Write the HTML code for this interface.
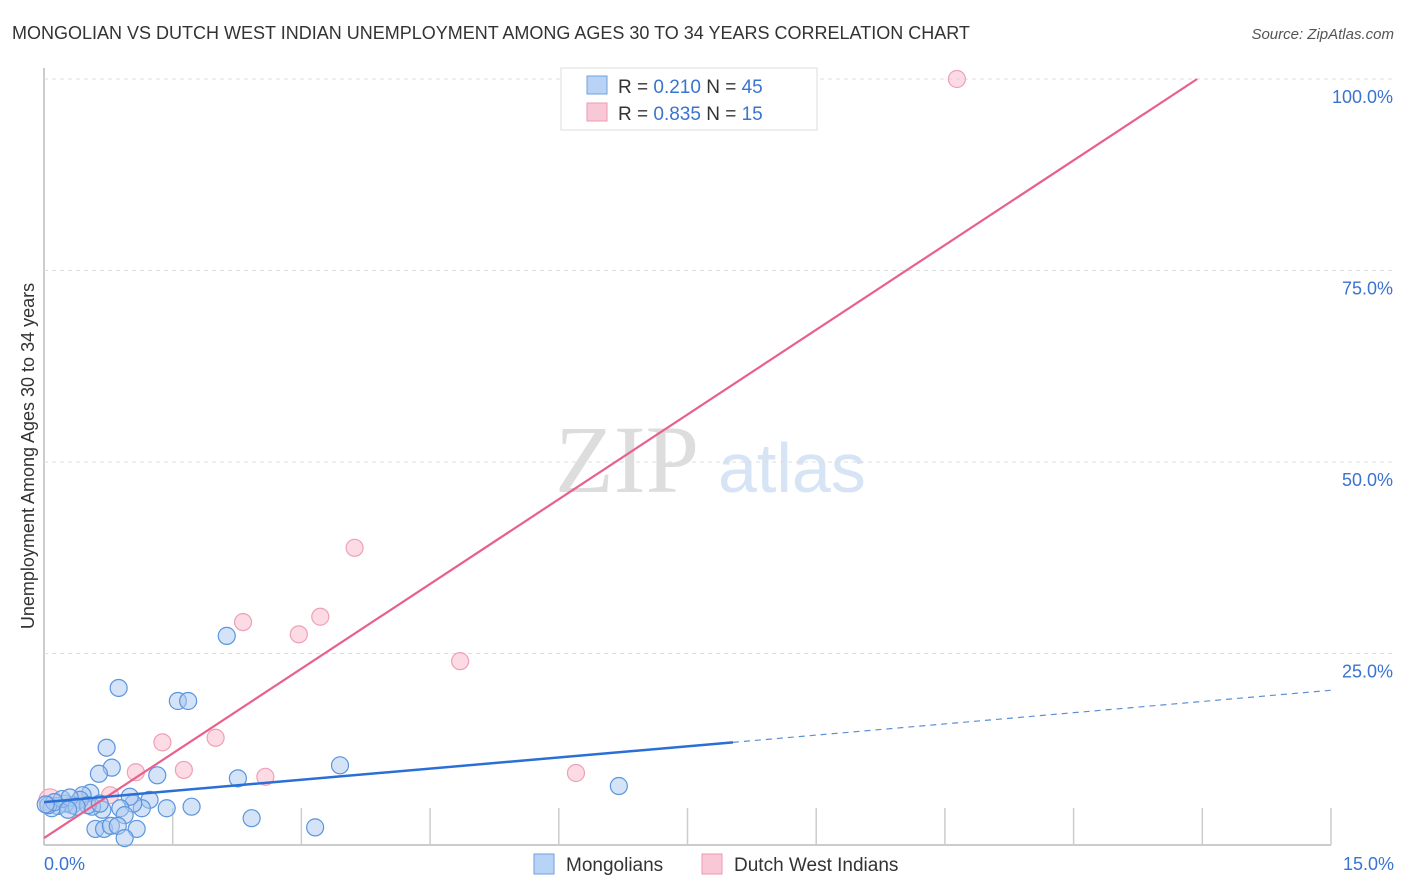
<!DOCTYPE html>
<html><head><meta charset="utf-8">
<style>
body{margin:0;background:#fff;font-family:"Liberation Sans",sans-serif;}
svg{display:block}
</style></head>
<body>
<svg id="chart" width="1406" height="892" xmlns="http://www.w3.org/2000/svg">
<text x="12" y="39" font-size="18" fill="#333">MONGOLIAN VS DUTCH WEST INDIAN UNEMPLOYMENT AMONG AGES 30 TO 34 YEARS CORRELATION CHART</text>
<text x="1394" y="39" font-size="15" fill="#555" font-style="italic" text-anchor="end">Source: ZipAtlas.com</text>
<text x="555" y="492" font-size="96" fill="#ddd" font-family="Liberation Serif,serif">ZIP</text>
<text x="718" y="492" font-size="70" fill="#d6e4f5">atlas</text>
<g id="grid"></g>
<g id="marks"></g>
<text transform="translate(34,456) rotate(-90)" font-size="18" fill="#333" text-anchor="middle">Unemployment Among Ages 30 to 34 years</text>
<g>
<rect x="561" y="68" width="256" height="62" fill="#fff" stroke="#ddd"/>
<rect x="587" y="76" width="20" height="18" fill="#b8d3f5" stroke="#6fa0e0"/>
<text x="618" y="93" font-size="19" fill="#333">R = <tspan fill="#3a73d0">0.210</tspan>   N = <tspan fill="#3a73d0">45</tspan></text>
<rect x="587" y="103" width="20" height="18" fill="#f9c8d6" stroke="#ec9ab2"/>
<text x="618" y="120" font-size="19" fill="#333">R = <tspan fill="#3a73d0">0.835</tspan>   N = <tspan fill="#3a73d0">15</tspan></text>
</g>
<g>
<rect x="534" y="854" width="20" height="20" fill="#b8d3f5" stroke="#6fa0e0"/>
<text x="566" y="871" font-size="19" fill="#333">Mongolians</text>
<rect x="702" y="854" width="20" height="20" fill="#f9c8d6" stroke="#ec9ab2"/>
<text x="734" y="871" font-size="19" fill="#333">Dutch West Indians</text>
</g>
</svg>
<script>
const xTicks=[0,1.5,3,4.5,6,7.5,9,10.5,12,13.5,15];
const yTicks=[25,50,75,100];
const yTickLabels=["25.0%","50.0%","75.0%","100.0%"];
const blueX=[0.87,1.56,1.68,2.13,0.73,0.79,0.64,1.32,2.26,3.45,6.70,2.42,3.16,1.72,1.43,1.23,1.14,1.04,1.0,0.89,0.94,0.6,0.7,0.78,0.86,1.08,0.94,0.68,0.56,0.54,0.45,0.42,0.33,0.25,0.16,0.09,0.05,0.21,0.30,0.51,0.65,0.12,0.38,0.02,0.28];
const blueY=[20.5,18.8,18.8,27.3,12.7,10.1,9.3,9.1,8.7,10.4,7.7,3.5,2.3,5.0,4.8,5.9,4.8,5.4,6.3,4.8,3.9,2.1,2.1,2.5,2.5,2.1,0.9,4.6,5.0,6.8,6.5,5.9,5.2,5.4,5.1,4.8,5.2,6.0,6.2,5.2,5.4,5.6,5.0,5.3,4.6];
const pinkX=[10.64,3.62,2.32,3.22,2.97,4.85,1.38,2.0,1.63,2.58,6.2,1.07,0.77,0.07,0.42];
const pinkY=[100,38.8,29.1,29.8,27.5,24.0,13.4,14.0,9.8,8.9,9.4,9.5,6.5,5.9,5.9];
const pinkLine=[[0,0.9],[13.44,100]];
const blueSolid=[[0,5.6],[8.03,13.4]];
const blueDash=[[8.03,13.4],[15,20.2]];
const NS="http://www.w3.org/2000/svg";
const sx=v=>44+v*(1331-44)/15;
const sy=v=>845-v*(845-79)/100;
function mk(t,a,p){const e=document.createElementNS(NS,t);for(const k in a)e.setAttribute(k,a[k]);p.appendChild(e);return e;}
const g=document.getElementById('grid'),m=document.getElementById('marks');
let ax=mk('line',{x1:44,y1:68,x2:44,y2:845,stroke:'#bbb','stroke-width':1.5},g);

let bx=mk('line',{x1:44,y1:845,x2:1331,y2:845,stroke:'#bbb','stroke-width':1.5},g);

yTicks.forEach((v,i)=>{
 let l=mk('line',{x1:44,y1:sy(v),x2:1395,y2:sy(v),stroke:'#ddd','stroke-dasharray':'4,4'},g);
 
 let t=mk('text',{x:1393,y:sy(v)+24,'font-size':18,fill:'#3a73d0','text-anchor':'end'},g);
 t.textContent=yTickLabels[i];
 
});
xTicks.forEach(v=>{if(v===0)return;
 let l=mk('line',{x1:sx(v),y1:808,x2:sx(v),y2:845,stroke:'#ccc','stroke-width':1.5},g);
 
});
let t0=mk('text',{x:44,y:870,'font-size':18,fill:'#3a73d0'},g);t0.textContent='0.0%';

let t1=mk('text',{x:1394,y:870,'font-size':18,fill:'#3a73d0','text-anchor':'end'},g);t1.textContent='15.0%';

pinkX.forEach((x,i)=>{
 let c=mk('circle',{cx:sx(x),cy:sy(pinkY[i]),r:i===13?11:8.5,fill:'rgba(249,190,208,0.55)',stroke:'#eea0b8','stroke-width':1.2},m);
 
});
blueX.forEach((x,i)=>{
 let c=mk('circle',{cx:sx(x),cy:sy(blueY[i]),r:8.5,fill:'rgba(170,200,240,0.5)',stroke:'#5b95dd','stroke-width':1.2},m);
 
});
let pl=mk('line',{x1:sx(pinkLine[0][0]),y1:sy(pinkLine[0][1]),x2:sx(pinkLine[1][0]),y2:sy(pinkLine[1][1]),stroke:'#e8608c','stroke-width':2.2},m);

let bl=mk('line',{x1:sx(blueSolid[0][0]),y1:sy(blueSolid[0][1]),x2:sx(blueSolid[1][0]),y2:sy(blueSolid[1][1]),stroke:'#2a6fd6','stroke-width':2.5},m);

let bd=mk('line',{x1:sx(blueDash[0][0]),y1:sy(blueDash[0][1]),x2:sx(blueDash[1][0]),y2:sy(blueDash[1][1]),stroke:'#5b8fd6','stroke-width':1.2,'stroke-dasharray':'6,5'},m);

</script>
</body></html>
